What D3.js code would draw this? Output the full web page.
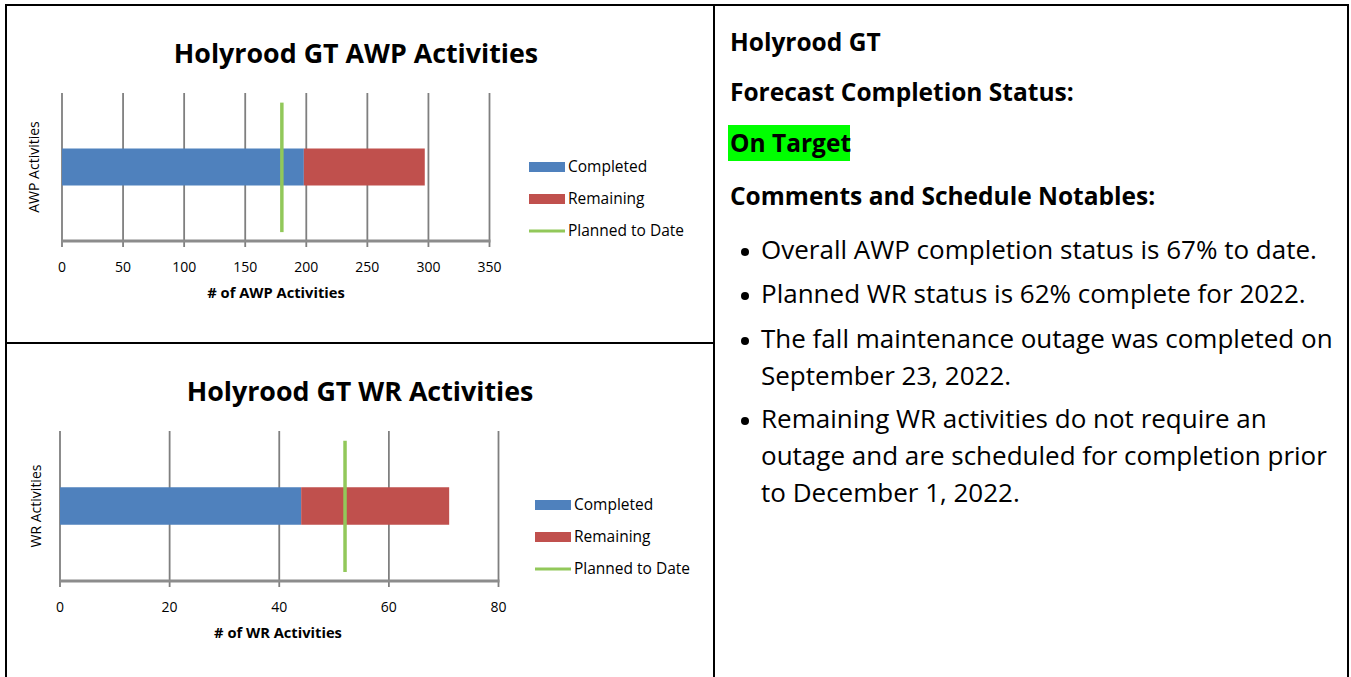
<!DOCTYPE html>
<html>
<head>
<meta charset="utf-8">
<script src="https://cdn.jsdelivr.net/npm/d3@7"></script>
<style>
  body { margin: 0; background: #fff; }
  svg text { font-family: "Open Sans", Lato, sans-serif; fill: #000; }
</style>
</head>
<body>
<div id="page"></div>
<script>
// chart data
const seriesNames = ["Completed", "Remaining", "Planned to Date"];
const seriesColors = ["#4f81bd", "#c0504d", "#92c85a"];

const awpCategory = ["AWP Activities"];
const awpValues = [198, 99];      // completed, remaining
const awpPlanned = [180];
const awpTicks = [0, 50, 100, 150, 200, 250, 300, 350];

const wrCategory = ["WR Activities"];
const wrValues = [44, 27];
const wrPlanned = [52];
const wrTicks = [0, 20, 40, 60, 80];

// right-hand text
const headings = ["Holyrood GT", "Forecast Completion Status:"];
const statusText = "On Target";
const notesHeading = "Comments and Schedule Notables:";
const bullets = [
  ["Overall AWP completion status is 67% to date."],
  ["Planned WR status is 62% complete for 2022."],
  ["The fall maintenance outage was completed on", "September 23, 2022."],
  ["Remaining WR activities do not require an", "outage and are scheduled for completion prior", "to December 1, 2022."]
];

const W = 1351, H = 677;
const svg = d3.select("#page").append("svg")
  .attr("width", W).attr("height", H);

// table borders
svg.append("rect")
  .attr("x", 6).attr("y", 5).attr("width", 1342).attr("height", 700)
  .attr("fill", "none").attr("stroke", "#000").attr("stroke-width", 2);
svg.append("line").attr("x1", 714).attr("x2", 714).attr("y1", 5).attr("y2", H)
  .attr("stroke", "#000").attr("stroke-width", 2);
svg.append("line").attr("x1", 6).attr("x2", 714).attr("y1", 343).attr("y2", 343)
  .attr("stroke", "#000").attr("stroke-width", 2);

function drawChart(cfg) {
  const g = svg.append("g").attr("transform", `translate(0,${cfg.top})`);

  const x = d3.scaleLinear()
    .domain([0, cfg.ticks[cfg.ticks.length - 1]])
    .range([cfg.left, cfg.right]);
  const y = d3.scaleBand()
    .domain(cfg.category)
    .range([cfg.gridTop, cfg.axisY])
    .padding(0.6);

  // title
  g.append("text")
    .attr("x", cfg.titleX).attr("y", cfg.titleY)
    .attr("text-anchor", "middle")
    .style("font-size", "26.8px").style("font-weight", "bold")
    .attr("fill", "#222")
    .text(cfg.title);

  // vertical gridlines + tick marks
  g.append("g").selectAll("line")
    .data(cfg.ticks)
    .enter().append("line")
    .attr("x1", d => x(d)).attr("x2", d => x(d))
    .attr("y1", cfg.gridTop).attr("y2", cfg.axisY + 6)
    .attr("stroke", "#7f7f7f").attr("stroke-width", 1.8);

  // stacked bar
  let acc = 0;
  const stack = cfg.values.map((v, i) => {
    const s = { x0: acc, x1: acc + v, i: i };
    acc += v;
    return s;
  });
  g.append("g").selectAll("rect")
    .data(stack)
    .enter().append("rect")
    .attr("x", d => x(d.x0))
    .attr("width", d => x(d.x1) - x(d.x0))
    .attr("y", y(cfg.category[0]))
    .attr("height", y.bandwidth())
    .attr("fill", d => seriesColors[d.i]);

  // bottom axis line
  g.append("line")
    .attr("x1", x(0) - 1).attr("x2", cfg.right + 1)
    .attr("y1", cfg.axisY).attr("y2", cfg.axisY)
    .attr("stroke", "#8c8c8c").attr("stroke-width", 3);

  // planned to date marker
  const span = cfg.axisY - cfg.gridTop;
  g.append("g").selectAll("line")
    .data(cfg.planned)
    .enter().append("line")
    .attr("x1", d => x(d)).attr("x2", d => x(d))
    .attr("y1", cfg.gridTop + span * 0.065)
    .attr("y2", cfg.axisY - span * 0.06)
    .attr("stroke", seriesColors[2]).attr("stroke-width", 3.5);

  // tick labels
  g.append("g").selectAll("text")
    .data(cfg.ticks)
    .enter().append("text")
    .attr("x", d => x(d)).attr("y", cfg.axisY + 31)
    .attr("text-anchor", "middle")
    .style("font-size", "14px").attr("fill", "#333")
    .text(d => d);

  // axis titles
  g.append("text")
    .attr("x", cfg.xTitleX).attr("y", cfg.axisY + 57)
    .attr("text-anchor", "middle")
    .style("font-size", "14.7px").style("font-weight", "bold").attr("fill", "#333")
    .text(cfg.xTitle);

  g.append("text")
    .attr("transform", `translate(${cfg.yTitleX},${y(cfg.category[0]) + y.bandwidth() / 2}) rotate(-90)`)
    .attr("text-anchor", "middle")
    .style("font-size", "14px").attr("fill", "#333")
    .text(cfg.category[0]);

  // legend
  const lg = g.append("g").selectAll("g")
    .data(seriesNames)
    .enter().append("g")
    .attr("transform", (d, i) => `translate(${cfg.legendX},${cfg.legendY + i * 32})`);
  lg.append("rect")
    .attr("x", 0).attr("y", d => d === "Planned to Date" ? -1.5 : -5)
    .attr("width", 36)
    .attr("height", d => d === "Planned to Date" ? 3 : 10)
    .attr("fill", (d, i) => seriesColors[i]);
  lg.append("text")
    .attr("x", 39).attr("y", 5)
    .style("font-size", "15.5px").attr("fill", "#222")
    .text(d => d);
}

drawChart({
  top: 0, title: "Holyrood GT AWP Activities", titleX: 356, titleY: 63,
  category: awpCategory, values: awpValues, planned: awpPlanned, ticks: awpTicks,
  left: 62, right: 489.5, gridTop: 93, axisY: 241,
  xTitle: "# of AWP Activities", xTitleX: 276, yTitleX: 39,
  legendX: 529, legendY: 167
});

drawChart({
  top: 338, title: "Holyrood GT WR Activities", titleX: 360, titleY: 63,
  category: wrCategory, values: wrValues, planned: wrPlanned, ticks: wrTicks,
  left: 60, right: 498.5, gridTop: 93, axisY: 243,
  xTitle: "# of WR Activities", xTitleX: 278, yTitleX: 41,
  legendX: 535, legendY: 167
});

// right-hand notes panel
const notes = svg.append("g");
const textX = 730;

notes.selectAll("text.head")
  .data(headings)
  .enter().append("text")
  .attr("class", "head")
  .attr("x", textX).attr("y", (d, i) => 51 + i * 50)
  .style("font-size", "24.5px").style("font-weight", "bold")
  .text(d => d);

notes.append("rect")
  .attr("x", 728).attr("y", 125).attr("width", 122).attr("height", 36)
  .attr("fill", "#00ff00");
notes.append("text")
  .attr("x", textX).attr("y", 152)
  .style("font-size", "24.5px").style("font-weight", "bold")
  .text(statusText);

notes.append("text")
  .attr("x", textX).attr("y", 205)
  .style("font-size", "24.5px").style("font-weight", "bold")
  .text(notesHeading);

const bulletTops = [259, 303, 348, 428];
const bg = notes.selectAll("g.bullet")
  .data(bullets)
  .enter().append("g")
  .attr("class", "bullet")
  .attr("transform", (d, i) => `translate(0,${bulletTops[i]})`);
bg.append("circle")
  .attr("cx", 745).attr("cy", -7).attr("r", 4)
  .attr("fill", "#000");
bg.append("text")
  .style("font-size", "26px")
  .selectAll("tspan")
  .data(d => d)
  .enter().append("tspan")
  .attr("x", 761).attr("y", (d, i) => i * 37)
  .text(d => d);
</script>
</body>
</html>
